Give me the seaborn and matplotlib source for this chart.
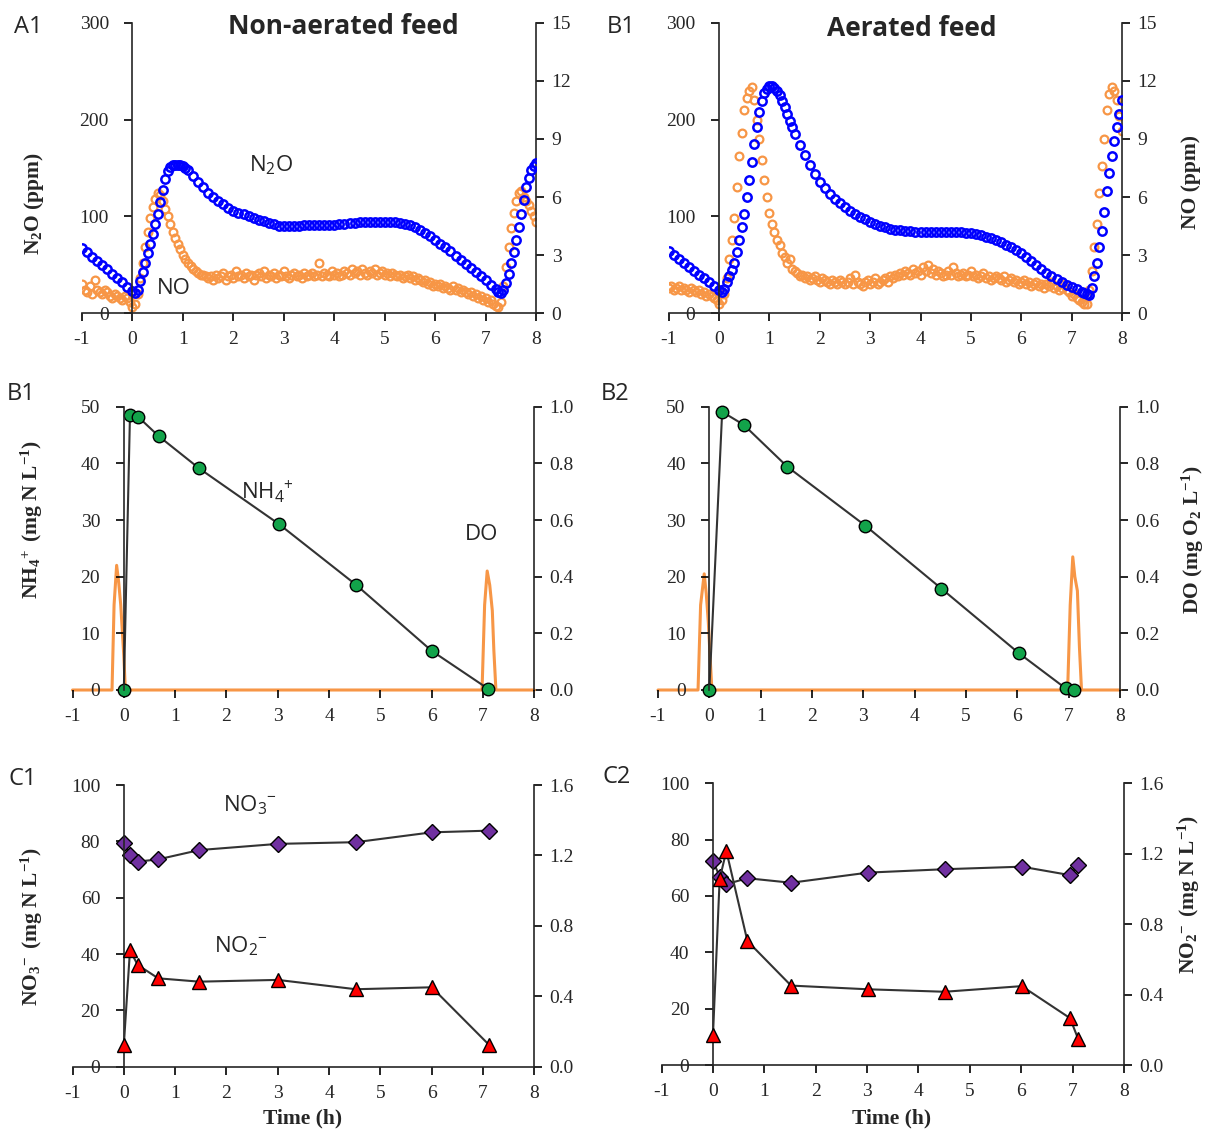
import matplotlib
matplotlib.use('Agg')
import matplotlib.pyplot as plt
import seaborn as sns

W, H = 1217, 1133

# ---------------- data ----------------
# A1 / A2 : off-gas N2O (ppm, left axis) and NO (ppm, right axis)
a1_time = [-1.0, -0.9, -0.8, -0.7, -0.6, -0.5, -0.4, -0.3, -0.2, -0.1, 0.0,
           0.05, 0.1, 0.15, 0.2, 0.25, 0.3, 0.35, 0.4, 0.45, 0.5, 0.55, 0.6, 0.65, 0.7, 0.75,
           0.8, 0.85, 0.9, 0.95, 1.0, 1.05, 1.1,
           1.2, 1.3, 1.4, 1.5, 1.6, 1.7, 1.8, 1.9, 2.0, 2.1, 2.2, 2.3, 2.4, 2.5, 2.6, 2.7, 2.8, 2.9,
           3.0, 3.1, 3.2, 3.3, 3.4, 3.5, 3.6, 3.7, 3.8, 3.9, 4.0, 4.1, 4.2, 4.3, 4.4, 4.5, 4.6, 4.7,
           4.8, 4.9, 5.0, 5.1, 5.2, 5.3, 5.4, 5.5, 5.6, 5.7, 5.8, 5.9, 6.0, 6.1, 6.2, 6.3, 6.4, 6.5,
           6.6, 6.7, 6.8, 6.9, 7.0, 7.1, 7.2,
           7.25, 7.3, 7.35, 7.4, 7.45, 7.5, 7.55, 7.6, 7.65, 7.7, 7.75, 7.8, 7.85, 7.9, 7.95, 8.0]
a1_n2o = [67, 63, 58.5, 54, 50, 45.5, 41, 36.5, 32, 27.5, 23,
          21, 24, 33, 43, 52, 62, 72, 82, 92, 103, 115, 127, 139, 147, 151,
          153, 153, 153, 153, 152, 150.5, 148,
          142, 136, 130, 124.5, 120, 116, 112.5, 109, 106, 104, 102, 100, 98, 96.5, 95, 93.5, 92, 90.5,
          90, 90, 90, 90.5, 91, 91, 91, 91, 91, 91, 91.5, 92, 92.5, 93, 93.5, 94, 94, 94,
          94, 94, 94, 94, 94, 93.5, 92.5, 91, 89, 86, 83, 79.5, 76, 72, 68, 64, 59.5, 55,
          51, 46.5, 42.5, 38, 34, 29.5, 25,
          22.5, 21, 24, 31, 41, 51.5, 63, 75.5, 89, 103, 117, 130, 140, 148, 152, 155]

# NO analyser logs on a regular 3-minute (0.05 h) clock from -1 h to 8 h
no_time = [round(-1 + 0.05 * i, 2) for i in range(181)]
a1_no = [1.5, 1.2, 1.1, 1.4, 1.0, 1.7, 1.2, 1.1, 1.0, 1.2, 1.1, 0.9, 0.8, 1.0, 0.9, 0.8, 0.7, 0.9,
         0.8, 0.6, 0.3,
         0.5, 1.0, 1.8, 2.6, 3.4, 4.2, 4.9, 5.5, 5.9, 6.2, 6.1, 5.8, 5.4, 5.0, 4.6, 4.2, 3.9, 3.6,
         3.3, 3.0, 2.8, 2.6, 2.45, 2.3, 2.2, 2.1, 2.0, 2.0, 1.9, 1.8,
         1.9, 1.7, 2.0, 1.8, 1.9, 2.1, 1.7, 1.9, 2.0, 1.8, 2.2, 1.9, 2.0, 1.8, 2.1, 1.9, 2.0, 1.7, 2.0, 2.1,
         1.9, 2.2, 1.8, 2.0, 1.9, 2.1, 1.8, 2.0, 1.9, 2.2, 1.9, 1.8, 2.0, 2.1, 1.9, 2.0, 1.8, 2.1, 1.9, 2.0,
         2.1, 1.9, 2.0, 2.6, 1.9, 2.1, 2.0, 1.9, 2.2, 2.0, 2.1, 1.9, 2.0, 2.2, 2.1, 2.0, 2.3, 2.1, 2.2, 2.0,
         2.3, 2.1, 2.0, 2.2, 2.1, 2.3, 2.0, 2.1, 2.2, 2.0, 2.1, 1.9, 2.1, 2.0, 1.9, 2.0, 1.8, 1.9, 2.0, 1.8,
         1.9, 1.7, 1.8, 1.7, 1.6, 1.7, 1.5, 1.6, 1.4, 1.5, 1.4, 1.5, 1.3, 1.4, 1.3, 1.2, 1.4, 1.2, 1.3, 1.1,
         1.2, 1.1, 1.0, 1.1, 0.9, 1.0, 0.8, 0.9, 0.7, 0.8, 0.6, 0.7, 0.5, 0.4, 0.3,
         0.6, 1.4, 2.4, 3.4, 4.4, 5.2, 5.8, 6.2, 6.3, 6.0, 5.8, 5.6, 5.3, 5.0, 4.7]

a2_time = [-1.0, -0.9, -0.8, -0.7, -0.6, -0.5, -0.4, -0.3, -0.2, -0.1, 0.0,
           0.05, 0.1, 0.15, 0.2, 0.25, 0.3, 0.35, 0.4, 0.45, 0.5, 0.55, 0.6, 0.65, 0.7, 0.75,
           0.8, 0.85, 0.9, 0.95, 1.0, 1.05, 1.1, 1.15, 1.2, 1.25, 1.3, 1.35, 1.4, 1.45, 1.5,
           1.6, 1.7, 1.8, 1.9, 2.0, 2.1, 2.2, 2.3, 2.4, 2.5, 2.6, 2.7, 2.8, 2.9,
           3.0, 3.1, 3.2, 3.3, 3.4, 3.5, 3.6, 3.7, 3.8, 3.9, 4.0, 4.1, 4.2, 4.3, 4.4, 4.5, 4.6, 4.7,
           4.8, 4.9, 5.0, 5.1, 5.2, 5.3, 5.4, 5.5, 5.6, 5.7, 5.8, 5.9, 6.0, 6.1, 6.2, 6.3, 6.4, 6.5,
           6.6, 6.7, 6.8, 6.9, 7.0, 7.1, 7.2,
           7.25, 7.3, 7.35, 7.4, 7.45, 7.5, 7.55, 7.6, 7.65, 7.7, 7.75, 7.8, 7.85, 7.9, 7.95, 8.0]
a2_n2o = [64, 60, 56, 52, 48, 44, 40, 36, 32, 28, 24,
          22, 25, 32, 39, 45, 52, 63, 76, 89, 103, 120, 138, 156, 175, 192,
          208, 219, 227, 232, 235, 235, 233, 230, 225, 219, 213, 206, 199, 192, 185,
          174, 163, 153, 144, 136, 129, 123, 118, 113.5, 109.5, 106, 102.5, 99.5, 97,
          94.5, 92.5, 90.5, 89, 87.5, 86.5, 85.5, 85, 84.5, 84, 84, 84, 84, 84, 84, 84, 84, 84,
          83.5, 83, 82.5, 81.5, 80.5, 79, 77.5, 75.5, 73.5, 71, 68, 65, 62, 58, 54, 50, 45.5, 41.5,
          38, 35, 32, 29.5, 27.5, 25, 22.5,
          21, 19.5, 19, 26, 38, 52, 68, 85, 105, 126, 145, 162, 178, 192, 206, 220]
a2_no = [1.3, 1.4, 1.2, 1.3, 1.4, 1.2, 1.3, 1.2, 1.1, 1.3, 1.2, 1.1, 1.2, 1.0, 1.1, 0.9, 1.0, 0.9,
         0.8, 0.7, 0.5,
         0.7, 1.0, 1.8, 2.8, 3.8, 4.9, 6.5, 8.1, 9.3, 10.5, 11.1, 11.5, 11.7, 11.0, 10.0, 9.0, 7.9, 6.9,
         6.0, 5.2, 4.6, 4.2, 3.8, 3.5, 3.1, 2.9, 2.6, 2.8, 2.3, 2.2,
         2.1, 1.9, 2.0, 1.8, 1.9, 1.7, 1.8, 1.9, 1.7, 1.6, 1.8, 1.7, 1.6, 1.5, 1.7, 1.6, 1.5, 1.7, 1.6, 1.5,
         1.6, 1.8, 1.5, 2.0, 1.6, 1.5, 1.4, 1.6, 1.7, 1.5, 1.6, 1.8, 1.5, 1.6, 1.7, 1.8, 1.6, 1.9, 1.8, 2.0,
         1.9, 2.1, 2.0, 2.2, 2.1, 2.0, 2.3, 2.1, 2.2, 2.0, 2.4, 2.2, 2.5, 2.1, 2.3, 2.0, 2.2, 2.1, 1.9, 2.0,
         2.2, 2.0, 2.4, 2.1, 1.9, 2.0, 2.1, 1.9, 2.0, 2.2, 1.9, 2.0, 1.8, 1.9, 2.1, 1.8, 1.9, 1.7, 1.8, 1.9,
         1.8, 1.7, 1.9, 1.6, 1.7, 1.8, 1.6, 1.7, 1.5, 1.6, 1.7, 1.5, 1.6, 1.4, 1.5, 1.6, 1.4, 1.5, 1.3, 1.5,
         1.4, 1.6, 1.3, 1.4, 1.2, 1.3, 1.5, 1.2, 1.1, 0.9, 1.0, 0.8, 0.7, 0.6, 0.5,
         0.5, 1.2, 2.2, 3.4, 4.6, 6.2, 7.6, 9.0, 10.5, 11.3, 11.7, 11.5, 11.0, 10.2, 9.4]

# B1 / B2 : NH4+ (mg N/L, left axis) and DO (mg O2/L, right axis)
b1_nh4_time = [0.0, 0.12, 0.28, 0.68, 1.47, 3.02, 4.52, 6.0, 7.1]
b1_nh4 = [0.0, 48.6, 48.2, 44.8, 39.1, 29.3, 18.6, 6.9, 0.2]
b1_do_time = [-1.0, -0.23, -0.19, -0.14, -0.1, -0.06, 0.0, 0.03, 6.98, 7.03, 7.08, 7.13, 7.18, 7.21, 7.25, 8.0]
b1_do = [0.0, 0.0, 0.3, 0.44, 0.38, 0.3, 0.12, 0.0, 0.0, 0.3, 0.42, 0.37, 0.28, 0.14, 0.0, 0.0]

b2_nh4_time = [0.0, 0.25, 0.67, 1.52, 3.04, 4.52, 6.03, 6.94, 7.1]
b2_nh4 = [0.0, 49.1, 46.8, 39.4, 29.0, 17.9, 6.5, 0.3, 0.0]
b2_do_time = [-1.0, -0.22, -0.17, -0.1, -0.06, -0.02, 0.02, 0.05, 6.98, 7.03, 7.08, 7.12, 7.17, 7.21, 7.25, 8.0]
b2_do = [0.0, 0.0, 0.3, 0.41, 0.34, 0.24, 0.1, 0.0, 0.0, 0.3, 0.47, 0.4, 0.35, 0.15, 0.0, 0.0]

# C1 / C2 : NO3- (mg N/L, left axis) and NO2- (mg N/L, right axis)
c1_time = [0.0, 0.12, 0.27, 0.67, 1.47, 3.0, 4.52, 6.0, 7.12]
c1_no3 = [79.3, 75.2, 72.8, 73.6, 76.9, 79.1, 79.7, 83.2, 83.8]
c1_no2 = [0.123, 0.662, 0.578, 0.502, 0.483, 0.493, 0.44, 0.451, 0.123]

c2_time = [0.0, 0.13, 0.26, 0.67, 1.52, 3.02, 4.51, 6.01, 6.95, 7.11]
c2_no3 = [72.4, 66.9, 64.2, 66.3, 64.7, 68.3, 69.5, 70.4, 67.4, 71.0]
c2_no2 = [0.17, 1.056, 1.216, 0.704, 0.451, 0.43, 0.416, 0.448, 0.266, 0.146]

# ---------------- style ----------------
SERIF = ['Liberation Serif', 'DejaVu Serif']
SANS = ['Open Sans', 'DejaVu Sans']
BLUE = '#0000ff'
ORANGE = '#f79646'
GREEN = '#12a34a'
PURPLE = '#7030a0'
RED = '#ff0000'
LINE = '#333333'
TICK_C = '#262626'

sns.set_style('ticks')
plt.rcParams['font.family'] = SERIF
plt.rcParams['mathtext.default'] = 'regular'
plt.rcParams['axes.unicode_minus'] = False
plt.rcParams['axes.linewidth'] = 1.2

fig = plt.figure(figsize=(W / 100, H / 100), dpi=100)


def rect(x0, x1, ytop, ybot):
    return [x0 / W, 1 - ybot / H, (x1 - x0) / W, (ybot - ytop) / H]


def panel(r, ylim, yticks, rlim, rticks, rfmt):
    ax = fig.add_axes(r)
    tw = ax.twinx()
    ax.set_xlim(-1, 8)
    ax.set_xticks(range(-1, 9))
    ax.set_ylim(*ylim)
    ax.set_yticks(yticks)
    tw.set_ylim(*rlim)
    tw.set_yticks(rticks)
    tw.set_yticklabels([rfmt.format(v) for v in rticks])
    ax.spines['left'].set_position(('data', 0))
    for s in ['top', 'right']:
        ax.spines[s].set_visible(False)
    for s in ['top', 'left', 'bottom']:
        tw.spines[s].set_visible(False)
    for a in (ax, tw):
        a.tick_params(direction='out', length=6, width=1.2, color='black',
                      labelcolor=TICK_C, labelsize=14)
    ax.tick_params(axis='y', pad=11)
    ax.tick_params(axis='x', pad=7)
    tw.tick_params(axis='y', pad=5)
    return ax, tw


def finish(ax, tw, left_on_top):
    for a in (ax, tw):
        a.set_xlabel('')
        a.set_ylabel('')
    if left_on_top:
        ax.set_zorder(tw.get_zorder() + 1)
        ax.patch.set_visible(False)


def open_circles(ax, x, y, color, ms, mew):
    sns.lineplot(x=x, y=y, ax=ax, estimator=None, sort=False, linestyle='',
                 marker='o', markersize=ms, markerfacecolor='none',
                 markeredgecolor=color, markeredgewidth=mew, color=color)


# ---- A panels ----
for key, r, t, n2o, no in [
        ('A1', rect(82, 536.3, 22.7, 313.3), a1_time, a1_n2o, a1_no),
        ('A2', rect(668.7, 1122, 22.7, 313.3), a2_time, a2_n2o, a2_no)]:
    ax, tw = panel(r, (0, 300), [0, 100, 200, 300], (0, 15), [0, 3, 6, 9, 12, 15], '{:d}')
    open_circles(tw, no_time, no, ORANGE, 5.6, 1.6)
    open_circles(ax, t, n2o, BLUE, 6.0, 1.8)
    finish(ax, tw, True)
    if key == 'A1':
        ax.text(2.74, 153, 'N$_2$O', family=SANS, fontsize=16, ha='center', va='center')
        ax.text(0.82, 26, 'NO', family=SANS, fontsize=16, ha='center', va='center')

# ---- B panels ----
for key, r, nt, nv, dt, dv in [
        ('B1', rect(72.5, 534.4, 406.7, 690), b1_nh4_time, b1_nh4, b1_do_time, b1_do),
        ('B2', rect(658, 1120, 406.7, 690), b2_nh4_time, b2_nh4, b2_do_time, b2_do)]:
    ax, tw = panel(r, (0, 50), [0, 10, 20, 30, 40, 50], (0, 1.0),
                   [0, 0.2, 0.4, 0.6, 0.8, 1.0], '{:.1f}')
    sns.lineplot(x=dt, y=dv, ax=tw, estimator=None, sort=False, color=ORANGE, linewidth=2.2)
    tw.lines[-1].set_clip_on(False)
    ax.spines['bottom'].set_visible(False)   # DO baseline runs along the time axis
    sns.lineplot(x=nt, y=nv, ax=ax, estimator=None, sort=False, color=LINE, linewidth=1.5,
                 marker='o', markersize=9, markerfacecolor=GREEN,
                 markeredgecolor='black', markeredgewidth=1.0)
    ax.lines[-1].set_clip_on(False)
    finish(ax, tw, True)
    if key == 'B1':
        ax.text(2.8, 35, r'NH$_4\!{}^+$', family=SANS, fontsize=16, ha='center', va='center')
        ax.text(6.97, 27.5, 'DO', family=SANS, fontsize=16, ha='center', va='center')

# ---- C panels ----
for key, r, t, n3, n2 in [
        ('C1', rect(72.5, 534.4, 785, 1066.7), c1_time, c1_no3, c1_no2),
        ('C2', rect(661.6, 1124, 783.3, 1065), c2_time, c2_no3, c2_no2)]:
    ax, tw = panel(r, (0, 100), [0, 20, 40, 60, 80, 100], (0, 1.6),
                   [0, 0.4, 0.8, 1.2, 1.6], '{:.1f}')
    sns.lineplot(x=t, y=n3, ax=ax, estimator=None, sort=False, color=LINE, linewidth=1.5,
                 marker='D', markersize=7.8, markerfacecolor=PURPLE,
                 markeredgecolor='black', markeredgewidth=1.0)
    sns.lineplot(x=t, y=n2, ax=tw, estimator=None, sort=False, color=LINE, linewidth=1.5,
                 marker='^', markersize=10, markerfacecolor=RED,
                 markeredgecolor='black', markeredgewidth=1.0)
    finish(ax, tw, False)
    if key == 'C1':
        ax.text(2.46, 93, r'NO$_3\!{}^-$', family=SANS, fontsize=16, ha='center', va='center')
        ax.text(2.27, 42.6, r'NO$_2\!{}^-$', family=SANS, fontsize=16, ha='center', va='center')

# ---- figure texts ----
def ftext(x, y, s, **kw):
    fig.text(x / W, 1 - y / H, s, **kw)


for lab, x, y in [('A1', 14, 27), ('B1', 607, 27), ('B1', 7, 394),
                  ('B2', 601, 394), ('C1', 9, 779), ('C2', 603, 777)]:
    ftext(x, y, lab, family=SANS, fontsize=17, ha='left', va='center')

ftext(343, 26, 'Non-aerated feed', family=SANS, fontsize=19, weight='bold', ha='center', va='center')
ftext(912, 28, 'Aerated feed', family=SANS, fontsize=19, weight='bold', ha='center', va='center')

lab_kw = dict(family=SERIF, weight='bold', fontsize=15.5, rotation=90, ha='center', va='center')
ftext(34, 203, 'N$_2$O (ppm)', **lab_kw)
ftext(1191, 182, 'NO (ppm)', **lab_kw)
ftext(32, 520, r'NH$_4\!{}^+$ (mg N L$^{-1}$)', **lab_kw)
ftext(1193, 540, 'DO (mg O$_2$ L$^{-1}$)', **lab_kw)
ftext(32, 927, r'NO$_3\!{}^-$ (mg N L$^{-1}$)', **lab_kw)
ftext(1189, 895, r'NO$_2\!{}^-$ (mg N L$^{-1}$)', **lab_kw)
ftext(303, 1118, 'Time (h)', family=SERIF, weight='bold', fontsize=15.5, ha='center', va='center')
ftext(892, 1118, 'Time (h)', family=SERIF, weight='bold', fontsize=15.5, ha='center', va='center')

fig.savefig('out.png', dpi=100)
